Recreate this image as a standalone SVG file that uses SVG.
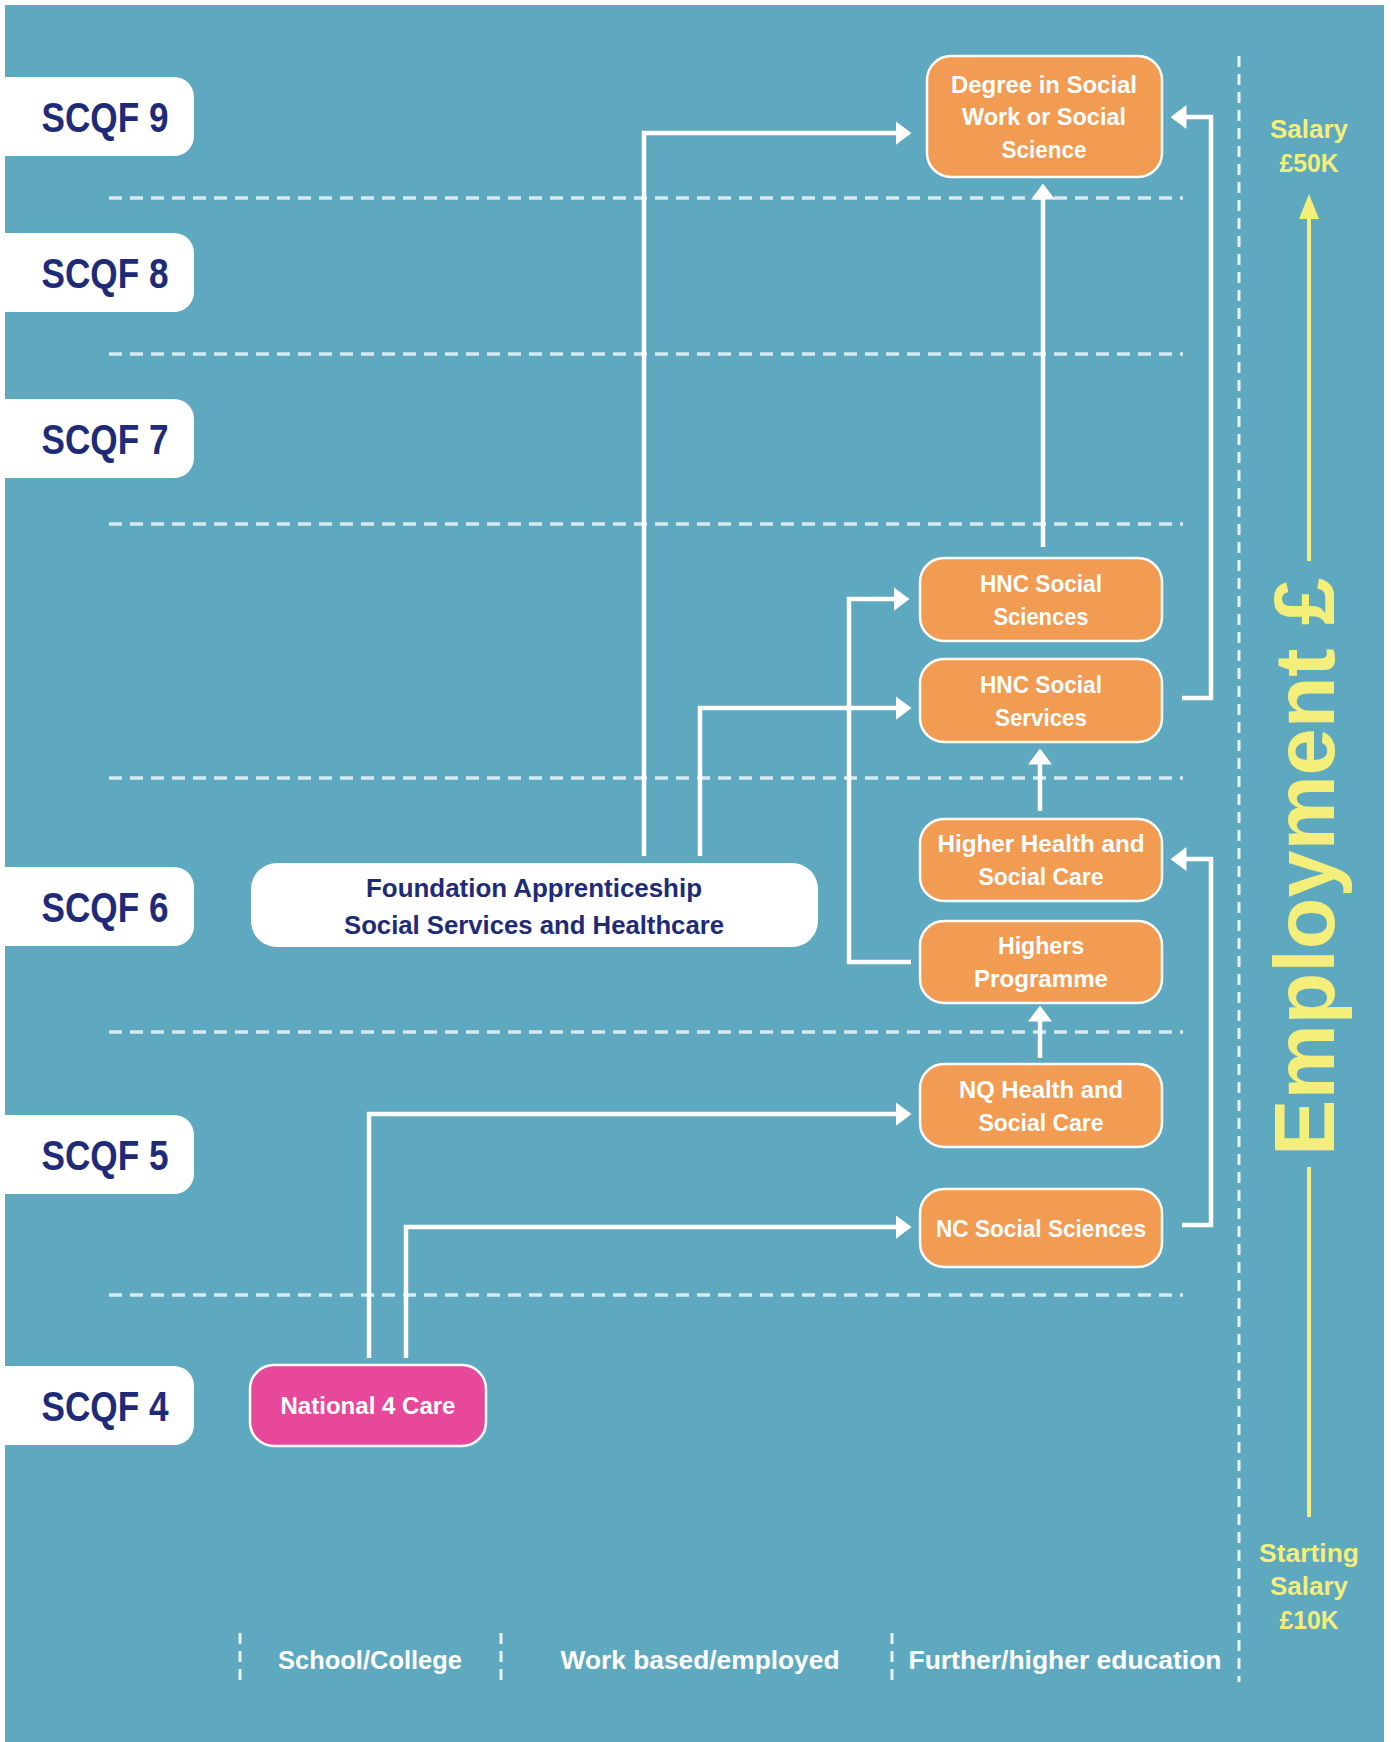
<svg xmlns="http://www.w3.org/2000/svg" width="1391" height="1742" viewBox="0 0 1391 1742">
<style>
.bg{fill:#5ea9c0}
.lvl{fill:#ffffff}
.lvlt{font-family:"Liberation Sans",Arial,sans-serif;font-weight:bold;font-size:42px;fill:#1e2b78;text-anchor:middle}
.grid{stroke:#d6eaef;stroke-width:3.5;stroke-dasharray:13 8;fill:none}
.vgrid{stroke:#e6f2f5;stroke-width:3;stroke-dasharray:11 7;fill:none}
.box{fill:#f29b52;stroke:#ffffff;stroke-width:2.5}
.pink{fill:#e8489a;stroke:#ffffff;stroke-width:2.5}
.wbox{fill:#ffffff}
.nt{font-family:"Liberation Sans",Arial,sans-serif;font-weight:bold;font-size:24px;fill:#ffffff;text-anchor:middle}
.ft{font-family:"Liberation Sans",Arial,sans-serif;font-weight:bold;font-size:26px;fill:#1e2b78;text-anchor:middle}
.bt{font-family:"Liberation Sans",Arial,sans-serif;font-weight:bold;font-size:26px;fill:#ffffff;text-anchor:middle}
.yt{font-family:"Liberation Sans",Arial,sans-serif;font-weight:bold;font-size:26px;fill:#f4ee7a;text-anchor:middle}
.conn{stroke:#ffffff;stroke-width:4.5;fill:none;marker-end:url(#ah)}
.yl{stroke:#f4ee7a;stroke-width:4;fill:none}
</style>
<defs>
<marker id="ah" markerUnits="userSpaceOnUse" markerWidth="16" markerHeight="24" viewBox="0 0 16 24" refX="0.5" refY="12" orient="auto">
<path d="M0,0 L16,12 L0,24 z" fill="#ffffff"/>
</marker>
</defs>
<rect x="0" y="0" width="1391" height="1742" fill="#ffffff"/>
<rect class="bg" x="5" y="5" width="1379" height="1737"/>

<g id="grid">
<line class="grid" x1="109" y1="198" x2="1183" y2="198"/>
<line class="grid" x1="109" y1="354" x2="1183" y2="354"/>
<line class="grid" x1="109" y1="524" x2="1183" y2="524"/>
<line class="grid" x1="109" y1="778" x2="1183" y2="778"/>
<line class="grid" x1="109" y1="1032" x2="1183" y2="1032"/>
<line class="grid" x1="109" y1="1295" x2="1183" y2="1295"/>
<line class="vgrid" x1="1239" y1="56" x2="1239" y2="1682"/>
<line class="vgrid" x1="240" y1="1633" x2="240" y2="1683"/>
<line class="vgrid" x1="501" y1="1633" x2="501" y2="1683"/>
<line class="vgrid" x1="892" y1="1633" x2="892" y2="1683"/>
</g>

<g id="levels">
<g id="scqf9"><rect class="lvl" x="-30" y="77" width="224" height="79" rx="20"/><text class="lvlt" x="105" y="132" textLength="127" lengthAdjust="spacingAndGlyphs">SCQF 9</text></g>
<g id="scqf8"><rect class="lvl" x="-30" y="233" width="224" height="79" rx="20"/><text class="lvlt" x="105" y="288" textLength="127" lengthAdjust="spacingAndGlyphs">SCQF 8</text></g>
<g id="scqf7"><rect class="lvl" x="-30" y="399" width="224" height="79" rx="20"/><text class="lvlt" x="105" y="454" textLength="127" lengthAdjust="spacingAndGlyphs">SCQF 7</text></g>
<g id="scqf6"><rect class="lvl" x="-30" y="867" width="224" height="79" rx="20"/><text class="lvlt" x="105" y="922" textLength="127" lengthAdjust="spacingAndGlyphs">SCQF 6</text></g>
<g id="scqf5"><rect class="lvl" x="-30" y="1115" width="224" height="79" rx="20"/><text class="lvlt" x="105" y="1170" textLength="127" lengthAdjust="spacingAndGlyphs">SCQF 5</text></g>
<g id="scqf4"><rect class="lvl" x="-30" y="1366" width="224" height="79" rx="20"/><text class="lvlt" x="105" y="1421" textLength="127" lengthAdjust="spacingAndGlyphs">SCQF 4</text></g>
</g>

<g id="connectors">
<path class="conn" d="M644,856 V133 H896"/>
<path class="conn" d="M700,856 V708 H896"/>
<path class="conn" d="M911,962 H849 V599 H894"/>
<path class="conn" d="M1043,547 V199"/>
<path class="conn" d="M1182,698 H1211 V117 H1186"/>
<path class="conn" d="M1040,811 V764"/>
<path class="conn" d="M1040,1058 V1021"/>
<path class="conn" d="M1182,1225 H1211 V859 H1186"/>
<path class="conn" d="M369,1358 V1114 H896"/>
<path class="conn" d="M406,1358 V1227 H896"/>
</g>

<g id="degree">
<rect class="box" x="927" y="56" width="235" height="121" rx="24"/>
<text class="nt" x="1044" y="93" textLength="186" lengthAdjust="spacingAndGlyphs">Degree in Social</text>
<text class="nt" x="1044" y="125" textLength="164" lengthAdjust="spacingAndGlyphs">Work or Social</text>
<text class="nt" x="1044" y="158" textLength="85" lengthAdjust="spacingAndGlyphs">Science</text>
</g>
<g id="hnc-sciences">
<rect class="box" x="920" y="558" width="242" height="83" rx="24"/>
<text class="nt" x="1041" y="592" textLength="122" lengthAdjust="spacingAndGlyphs">HNC Social</text>
<text class="nt" x="1041" y="625" textLength="95" lengthAdjust="spacingAndGlyphs">Sciences</text>
</g>
<g id="hnc-services">
<rect class="box" x="920" y="659" width="242" height="83" rx="24"/>
<text class="nt" x="1041" y="693" textLength="122" lengthAdjust="spacingAndGlyphs">HNC Social</text>
<text class="nt" x="1041" y="726" textLength="92" lengthAdjust="spacingAndGlyphs">Services</text>
</g>
<g id="higher-hsc">
<rect class="box" x="920" y="819" width="242" height="82" rx="24"/>
<text class="nt" x="1041" y="852" textLength="207" lengthAdjust="spacingAndGlyphs">Higher Health and</text>
<text class="nt" x="1041" y="885" textLength="125" lengthAdjust="spacingAndGlyphs">Social Care</text>
</g>
<g id="highers">
<rect class="box" x="920" y="921" width="242" height="82" rx="24"/>
<text class="nt" x="1041" y="954" textLength="86" lengthAdjust="spacingAndGlyphs">Highers</text>
<text class="nt" x="1041" y="987" textLength="134" lengthAdjust="spacingAndGlyphs">Programme</text>
</g>
<g id="nq-hsc">
<rect class="box" x="920" y="1064" width="242" height="83" rx="24"/>
<text class="nt" x="1041" y="1098" textLength="164" lengthAdjust="spacingAndGlyphs">NQ Health and</text>
<text class="nt" x="1041" y="1131" textLength="125" lengthAdjust="spacingAndGlyphs">Social Care</text>
</g>
<g id="nc-social">
<rect class="box" x="920" y="1189" width="242" height="78" rx="24"/>
<text class="nt" x="1041" y="1237" textLength="210" lengthAdjust="spacingAndGlyphs">NC Social Sciences</text>
</g>
<g id="foundation">
<rect class="wbox" x="251" y="863" width="567" height="84" rx="26"/>
<text class="ft" x="534" y="897" textLength="336" lengthAdjust="spacingAndGlyphs">Foundation Apprenticeship</text>
<text class="ft" x="534" y="934" textLength="380" lengthAdjust="spacingAndGlyphs">Social Services and Healthcare</text>
</g>
<g id="national4">
<rect class="pink" x="250" y="1365" width="236" height="81" rx="24"/>
<text class="nt" x="368" y="1414" textLength="175" lengthAdjust="spacingAndGlyphs">National 4 Care</text>
</g>

<g id="pathways">
<text class="bt" x="370" y="1669" textLength="184" lengthAdjust="spacingAndGlyphs">School/College</text>
<text class="bt" x="700" y="1669" textLength="279" lengthAdjust="spacingAndGlyphs">Work based/employed</text>
<text class="bt" x="1065" y="1669" textLength="313" lengthAdjust="spacingAndGlyphs">Further/higher education</text>
</g>

<g id="salary">
<text class="yt" x="1309" y="138" textLength="78" lengthAdjust="spacingAndGlyphs">Salary</text>
<text class="yt" x="1309" y="172" textLength="59" lengthAdjust="spacingAndGlyphs">£50K</text>
<line class="yl" x1="1309" y1="217" x2="1309" y2="561"/>
<path d="M1309,194 L1319,219 L1299,219 z" fill="#f4ee7a"/>
<text transform="translate(1334,867) rotate(-90)" x="0" y="0" font-family="Liberation Sans, Arial, sans-serif" font-weight="bold" font-size="86" fill="#f4ee7a" text-anchor="middle" textLength="578" lengthAdjust="spacingAndGlyphs">Employment £</text>
<line class="yl" x1="1309" y1="1167" x2="1309" y2="1517"/>
<text class="yt" x="1309" y="1562" textLength="100" lengthAdjust="spacingAndGlyphs">Starting</text>
<text class="yt" x="1309" y="1595" textLength="78" lengthAdjust="spacingAndGlyphs">Salary</text>
<text class="yt" x="1309" y="1629" textLength="59" lengthAdjust="spacingAndGlyphs">£10K</text>
</g>
</svg>
